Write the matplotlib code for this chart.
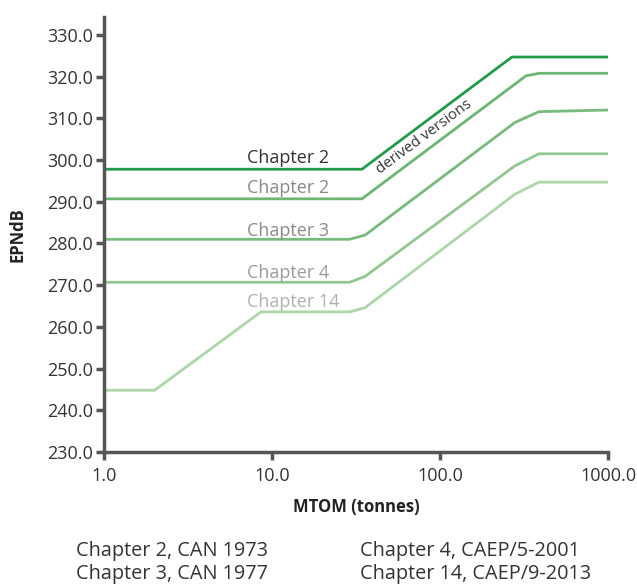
import matplotlib
matplotlib.use("Agg")
import matplotlib.pyplot as plt
import numpy as np

plt.rcParams['font.family'] = ['Open Sans', 'DejaVu Sans']

# Data (MTOM in tonnes, cumulative EPNdB)
ch2_x = [1.0, 34.3, 268.0, 1000.0]
ch2_y = [297.8, 297.8, 324.7, 324.7]

ch2d_x = [1.0, 34.3, 325.0, 390.0, 1000.0]
ch2d_y = [290.7, 290.7, 320.2, 320.8, 320.8]

ch3_x = [1.0, 29.0, 35.8, 279.0, 388.0, 1000.0]
ch3_y = [281.0, 281.0, 282.0, 309.0, 311.6, 312.0]

ch4_x = [1.0, 29.0, 35.8, 279.0, 388.0, 1000.0]
ch4_y = [270.7, 270.7, 272.1, 298.6, 301.5, 301.5]

ch14_x = [1.0, 2.0, 8.6, 29.0, 35.8, 279.0, 388.0, 1000.0]
ch14_y = [244.8, 244.8, 263.6, 263.6, 264.6, 291.8, 294.7, 294.7]

series_labels = ["Chapter 2", "Chapter 2", "Chapter 3", "Chapter 4", "Chapter 14"]
label_y = [299.3, 292.1, 281.8, 271.7, 264.8]
label_colors = ["#333333", "#888888", "#8a8a8a", "#9a9a9a", "#b0b0b0"]
line_colors = ["#23994a", "#6cb573", "#78ba7c", "#92c792", "#add6a8"]

yticks = [230, 240, 250, 260, 270, 280, 290, 300, 310, 320, 330]
xticks = [1, 10, 100, 1000]

legend_left = ["Chapter 2, CAN 1973", "Chapter 3, CAN 1977"]
legend_right = ["Chapter 4, CAEP/5-2001", "Chapter 14, CAEP/9-2013"]

fig = plt.figure(figsize=(6.37, 5.88), dpi=100)
ax = fig.add_axes([104/637, 1-452/588, (608-104)/637, (452-17)/588])

xs = [ch2_x, ch2d_x, ch3_x, ch4_x, ch14_x]
ys = [ch2_y, ch2d_y, ch3_y, ch4_y, ch14_y]
for x, y, c in zip(xs, ys, line_colors):
    ax.plot(x, y, color=c, lw=2.0, solid_capstyle='butt', clip_on=False)

for lab, ly, lc in zip(series_labels, label_y, label_colors):
    ax.text(7.1, ly, lab, color=lc, fontsize=13, ha='left', va='baseline')

ax.text(44.0, 296.6, "derived versions", color="#333333", fontsize=10.8,
        rotation=36.5, rotation_mode='anchor', ha='left', va='baseline')

ax.set_xscale('log')
ax.set_xlim(1, 1000)
ax.set_ylim(230, 334.3)
ax.set_xticks(xticks)
ax.set_xticklabels([f"{v:.1f}" for v in xticks])
ax.minorticks_off()
ax.set_yticks(yticks)
ax.set_yticklabels([f"{v:.1f}" for v in yticks])

for s in ['top', 'right']:
    ax.spines[s].set_visible(False)
for s in ['left', 'bottom']:
    ax.spines[s].set_color('#555555')
    ax.spines[s].set_linewidth(2.5)
ax.tick_params(axis='both', colors='#555555', width=2.5, length=6,
               labelsize=13, labelcolor='#333333')
ax.tick_params(axis='y', pad=2)
ax.tick_params(axis='x', pad=5)

ax.set_xlabel("MTOM (tonnes)", fontsize=12, fontweight='bold', color='#222222', labelpad=9)
ax.set_ylabel("EPNdB", fontsize=12, fontweight='bold', color='#222222', labelpad=15)

fig.text(76/637, 1-551/588, legend_left[0], fontsize=14.3, color='#333333', va='center')
fig.text(76/637, 1-574/588, legend_left[1], fontsize=14.3, color='#333333', va='center')
fig.text(360/637, 1-551/588, legend_right[0], fontsize=14.3, color='#333333', va='center')
fig.text(360/637, 1-574/588, legend_right[1], fontsize=14.3, color='#333333', va='center')

fig.savefig("out.png", dpi=100)
